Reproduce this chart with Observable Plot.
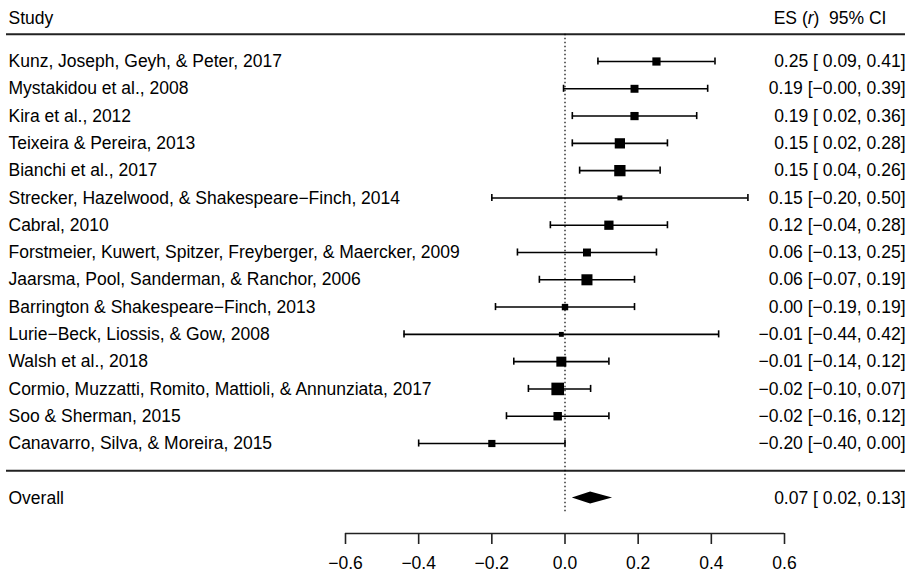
<!DOCTYPE html>
<html>
<head>
<meta charset="utf-8">
<script src="https://cdn.jsdelivr.net/npm/d3@7"></script>
<script src="https://cdn.jsdelivr.net/npm/@observablehq/plot@0.6"></script>
<style>
  html, body { margin: 0; padding: 0; background: #fff; }
  #chart svg { display: block; }
</style>
</head>
<body>
<div id="chart"></div>
<script>
// ---- data ----
const studies = [
  "Kunz, Joseph, Geyh, & Peter, 2017",
  "Mystakidou et al., 2008",
  "Kira et al., 2012",
  "Teixeira & Pereira, 2013",
  "Bianchi et al., 2017",
  "Strecker, Hazelwood, & Shakespeare\u2212Finch, 2014",
  "Cabral, 2010",
  "Forstmeier, Kuwert, Spitzer, Freyberger, & Maercker, 2009",
  "Jaarsma, Pool, Sanderman, & Ranchor, 2006",
  "Barrington & Shakespeare\u2212Finch, 2013",
  "Lurie\u2212Beck, Liossis, & Gow, 2008",
  "Walsh et al., 2018",
  "Cormio, Muzzatti, Romito, Mattioli, & Annunziata, 2017",
  "Soo & Sherman, 2015",
  "Canavarro, Silva, & Moreira, 2015"
];
const es      = [0.25, 0.19, 0.19, 0.15, 0.15, 0.15, 0.12, 0.06, 0.06, 0.00, -0.01, -0.01, -0.02, -0.02, -0.20];
const ciLower = [0.09, -0.004, 0.02, 0.02, 0.04, -0.20, -0.04, -0.13, -0.07, -0.19, -0.44, -0.14, -0.10, -0.16, -0.40];
const ciUpper = [0.41, 0.39, 0.36, 0.28, 0.26, 0.50, 0.28, 0.25, 0.19, 0.19, 0.42, 0.12, 0.07, 0.12, 0.00];
const weights = [6.4, 6.2, 6.4, 8.0, 8.8, 3.8, 7.2, 6.2, 8.6, 5.0, 3.8, 7.8, 9.8, 6.6, 5.6];

const overallLabel = "Overall";
const overallEs = 0.07, overallLower = 0.02, overallUpper = 0.13;

const xTicks = [-0.6, -0.4, -0.2, 0, 0.2, 0.4, 0.6];
const headerLeft = "Study";
const headerRight = "ES (r)  95% CI";

// ---- build table ----
const fmt = v => v.toFixed(2).replace("-", "\u2212");
const ciText = (e, l, h) => {
  const ls = fmt(l);
  return `${fmt(e)} [${ls.startsWith("\u2212") ? "" : " "}${ls}, ${fmt(h)}]`;
};
const rows = studies.map((s, i) => ({
  study: s, es: es[i], lo: ciLower[i], hi: ciUpper[i], w: weights[i], row: i,
  label: ciText(es[i], ciLower[i], ciUpper[i])
}));
const nRows = rows.length;
const overallRow = nRows + 1;
const sepRow = nRows;
const headerRow = -1;
const axisRow = 17.3;
const capHalf = 0.13;
const diamondHalf = 0.22;
const diamond = [
  {y: overallRow - diamondHalf, x1: overallEs, x2: overallEs},
  {y: overallRow, x1: overallLower, x2: overallUpper},
  {y: overallRow + diamondHalf, x1: overallEs, x2: overallEs}
];
const overall = [{label: overallLabel, row: overallRow, text: ciText(overallEs, overallLower, overallUpper)}];

const FONT = 17.5;
const chart = Plot.plot({
  width: 908,
  height: 575,
  marginTop: 0,
  marginLeft: 6,
  marginRight: 3,
  marginBottom: 42,
  style: {fontFamily: "'Liberation Sans', Arial, Helvetica, sans-serif", fontSize: FONT + "px", color: "black", background: "white"},
  x: {domain: [-0.6, 0.6], range: [345, 784]},
  y: {type: "linear", domain: [0, nRows - 1], range: [61, 443], axis: null},
  r: {type: "linear", domain: [0, 9.8], range: [0, 7.1]},
  marks: [
    // header and separator lines
    Plot.ruleY([headerRow, sepRow], {stroke: "#222", strokeWidth: 2}),
    // reference line at 0
    Plot.ruleX([0], {y1: headerRow, y2: 16.53, stroke: "black", strokeWidth: 1.2, strokeDasharray: "1.5,2.5"}),
    // CI lines and caps
    Plot.ruleY(rows, {y: "row", x1: "lo", x2: "hi", stroke: "black", strokeWidth: 1.6}),
    Plot.ruleX(rows, {x: "lo", y1: d => d.row - capHalf, y2: d => d.row + capHalf, stroke: "black", strokeWidth: 1.6}),
    Plot.ruleX(rows, {x: "hi", y1: d => d.row - capHalf, y2: d => d.row + capHalf, stroke: "black", strokeWidth: 1.6}),
    // effect-size squares
    Plot.dot(rows, {x: "es", y: "row", r: "w", symbol: "square", fill: "black", stroke: null}),
    // overall diamond
    Plot.areaX(diamond, {y: "y", x1: "x1", x2: "x2", fill: "black", curve: "linear"}),
    // left labels
    Plot.text(rows, {y: "row", text: "study", frameAnchor: "left", textAnchor: "start", dx: 2, fontSize: FONT}),
    Plot.text(overall, {y: "row", text: "label", frameAnchor: "left", textAnchor: "start", dx: 2, fontSize: FONT}),
    // right labels
    Plot.text(rows, {y: "row", text: "label", frameAnchor: "right", textAnchor: "end", fontSize: FONT}),
    Plot.text(overall, {y: "row", text: "text", frameAnchor: "right", textAnchor: "end", fontSize: FONT}),
    // headers
    Plot.text([headerLeft], {y: headerRow - 0.58, text: d => d, frameAnchor: "left", textAnchor: "start", dx: 2, fontSize: FONT}),
    Plot.text([headerRight], {y: headerRow - 0.58, text: d => d, frameAnchor: "right", textAnchor: "end", dx: -19, fontSize: FONT}),
    // x axis
    Plot.ruleY([axisRow], {x1: xTicks[0], x2: xTicks[xTicks.length - 1], stroke: "#222", strokeWidth: 1.6}),
    Plot.axisX({ticks: xTicks, anchor: "bottom", tickSize: 11, tickPadding: 12, fontSize: FONT, strokeWidth: 1.6, stroke: "#222", label: null})
  ]
});

// italic "r" in the right header
d3.select(chart).selectAll("text").each(function() {
  if (this.textContent === headerRight) {
    const t = d3.select(this).style("white-space", "pre");
    t.text(null);
    t.append("tspan").text("ES (");
    t.append("tspan").attr("font-style", "italic").text("r");
    t.append("tspan").text(")  95% CI");
  }
});

document.getElementById("chart").appendChild(chart);
</script>
</body>
</html>
